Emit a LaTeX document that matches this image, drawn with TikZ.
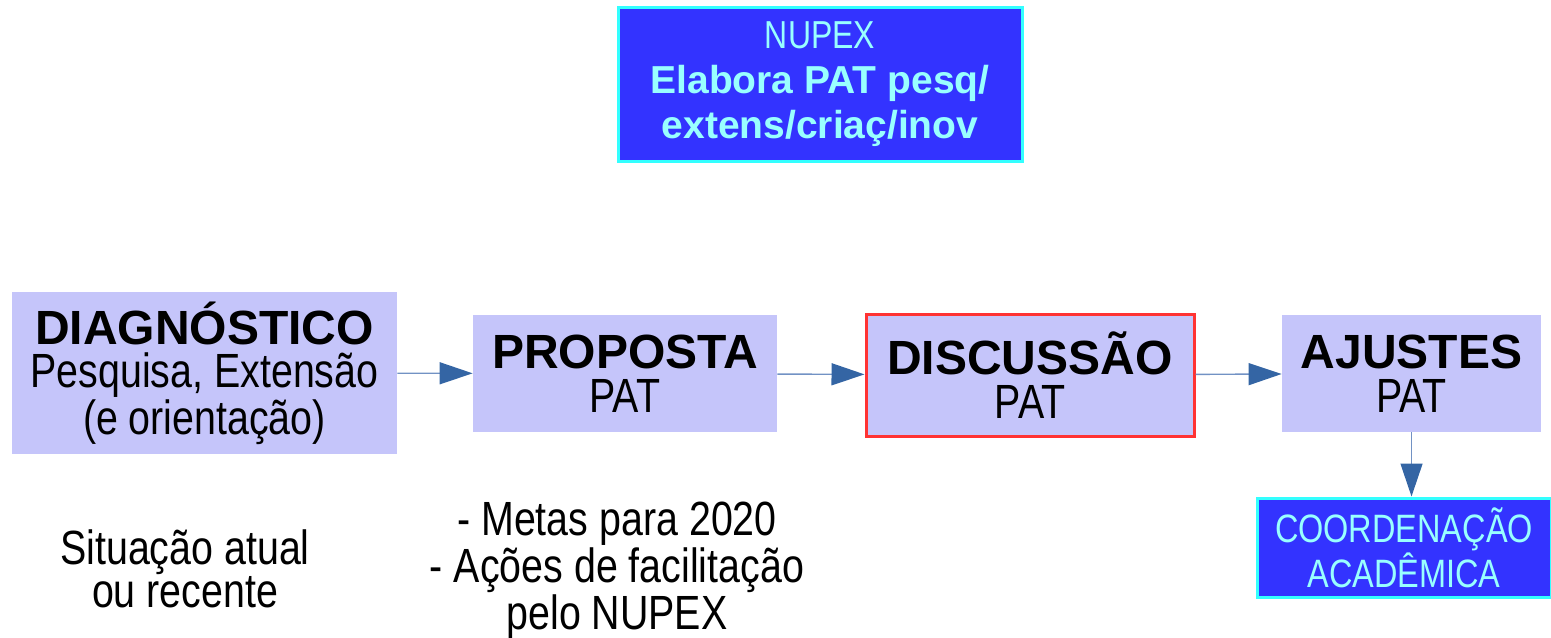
\documentclass[tikz,border=0pt]{standalone}
\usepackage{fontspec}
\setmainfont{Liberation Sans}
\newfontfamily\narrowfont[FakeStretch=0.82]{Liberation Sans}
\usetikzlibrary{arrows.meta}

\definecolor{lavbox}{RGB}{197,197,250}
\definecolor{darkbox}{RGB}{51,51,255}
\definecolor{cyanline}{RGB}{51,255,255}
\definecolor{cyantext}{RGB}{153,255,255}
\definecolor{redline}{RGB}{255,51,51}
\definecolor{arrowhead}{RGB}{52,101,164}
\definecolor{arrowline}{RGB}{114,146,196}

\begin{document}
\begin{tikzpicture}[
  x=0.5pt, y=-0.5pt,
  stage/.style={fill=lavbox,align=center,inner sep=0pt,font=\fontsize{24}{22}\selectfont},
  darkstage/.style={fill=darkbox,draw=cyanline,line width=1.5pt,align=center,inner sep=0pt,text=cyantext},
  note/.style={align=center,inner sep=0pt,font=\narrowfont\fontsize{24}{21.5}\selectfont},
  flow/.style={draw=arrowline,line width=0.7pt,-{Triangle[length=16.5pt,width=11pt,color=arrowhead]}}
]
\useasboundingbox (0,0) rectangle (1551,637);

\node[darkstage,font=\fontsize{19.5}{22.5}\selectfont,minimum width=202pt,minimum height=77pt] (nupex) at (820,84)
  {\narrowfont NUPEX\\
   \bfseries Elabora PAT pesq/\\
   \bfseries extens/criaç/inov};

\node[stage,font=\fontsize{24}{21.5}\selectfont,minimum width=192.5pt,minimum height=81pt] (diag) at (204.5,373)
  {\bfseries DIAGNÓSTICO\\
   \narrowfont Pesquisa, Extensão\\
   \narrowfont (e orientação)};
\node[stage,minimum width=152pt,minimum height=58.5pt] (prop) at (625,373.5)
  {\bfseries PROPOSTA\\
   \narrowfont PAT};
\node[stage,draw=redline,line width=1.5pt,minimum width=164pt,minimum height=61pt] (disc) at (1030,375)
  {\bfseries DISCUSSÃO\\
   \narrowfont PAT};
\node[stage,minimum width=129.5pt,minimum height=58.5pt] (ajus) at (1411.5,373.5)
  {\bfseries AJUSTES\\
   \narrowfont PAT};
\node[darkstage,font=\narrowfont\fontsize{19.8}{19.5}\selectfont,minimum width=147pt,minimum height=49.5pt] (coord) at (1404,547.5)
  {COORDENAÇÃO\\ACADÊMICA};

\node[note] (situacao) at (185,569) {Situação atual\\ou recente};
\node[note,font=\narrowfont\fontsize{24}{22}\selectfont] (metas) at (617,571) {- Metas para 2020\\- Ações de facilitação\\pelo NUPEX};

\draw[flow] (diag) -- (prop);
\draw[flow] (prop) -- (disc);
\draw[flow] (disc) -- (ajus);
\draw[flow] (ajus) -- (ajus |- coord.north);
\end{tikzpicture}
\end{document}
